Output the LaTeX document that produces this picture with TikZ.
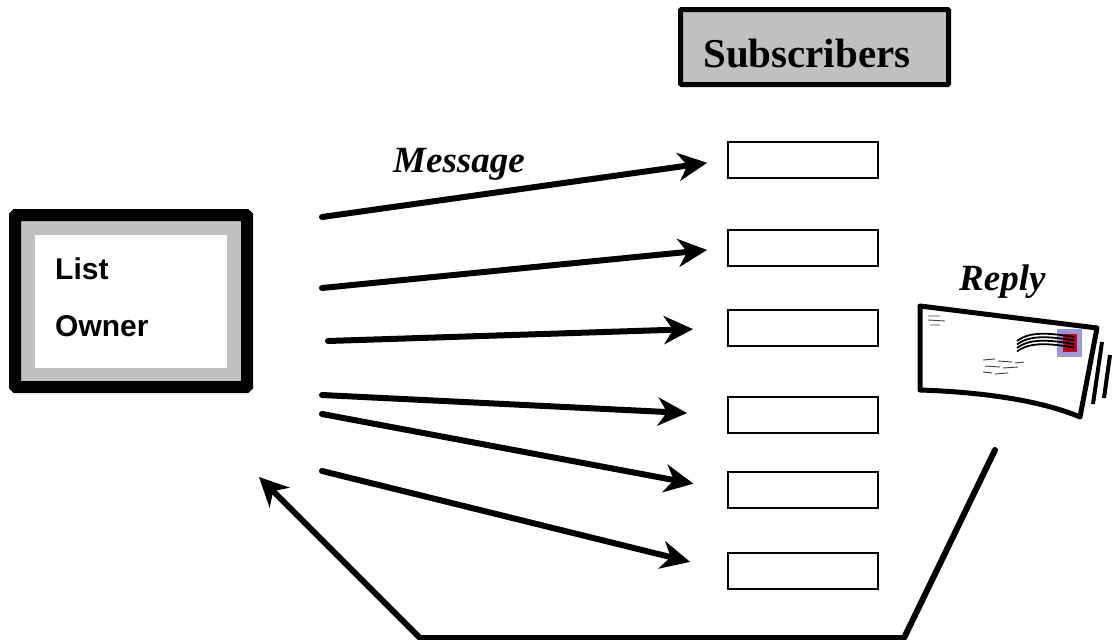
\documentclass[tikz,border=0pt]{standalone}
\usepackage{fontspec}
\setmainfont{Liberation Serif}
\newfontfamily\arialfont{Liberation Sans}
\usetikzlibrary{arrows.meta}
\definecolor{lgray}{RGB}{192,192,192}
\definecolor{stampred}{RGB}{175,10,30}
\definecolor{stampblue}{RGB}{160,150,215}
\begin{document}
\begin{tikzpicture}[x=1pt,y=-1pt,
  msg/.style={draw,line width=6pt,line cap=round,line join=round,-{Stealth[length=29pt,width=28pt,inset=9pt]}},
  sub/.style={draw,line width=2pt,minimum width=150pt,minimum height=36pt,inner sep=0pt},
  lbl/.style={anchor=base west,inner sep=0pt,font=\bfseries\itshape\fontsize{37}{44}\selectfont}]
\useasboundingbox (0,0) rectangle (1112,640);
% list owner
\node[draw,fill=lgray,line width=12pt,rounded corners=1pt,minimum width=232pt,minimum height=172pt] (lo) at (131,301) {};
\node[fill=white,minimum width=192pt,minimum height=133pt] (low) at (131,301.5) {};
\node[anchor=base west,inner sep=0pt,font=\arialfont\bfseries\fontsize{30}{36}\selectfont] (l1) at (55,279) {List};
\node[anchor=base west,inner sep=0pt,font=\arialfont\bfseries\fontsize{30}{36}\selectfont] (l2) at (55,336) {Owner};
% subscribers
\node[draw,fill=lgray,line width=5pt,rounded corners=1pt,minimum width=268pt,minimum height=75pt] (sh) at (814.5,47) {};
\node[anchor=base west,inner sep=0pt,font=\bfseries\fontsize{41}{48}\selectfont] (sht) at (703,67) {Subscribers};
\foreach \i/\y in {1/160,2/248,3/328,4/415,5/490,6/571}
  \node[sub] (s\i) at (803,\y) {};
% message arrows
\coordinate (o1) at (322,217);
\coordinate (o2) at (322,288);
\coordinate (o3) at (328,341);
\coordinate (o4) at (322,395);
\coordinate (o5) at (322,414);
\coordinate (o6) at (322,471);
\foreach \i/\g in {1/20,2/20,3/34,4/40,5/34,6/38}
  \draw[msg,shorten >=\g pt] (o\i) -- (s\i.west);
\node[lbl] (m) at (393,172) {Message};
\node[lbl] (r) at (959,290) {Reply};
% reply path
\coordinate (r0) at (995,450);
\coordinate (r1) at (904,638);
\coordinate (r2) at (420,638);
\coordinate (r3) at (259,477);
\draw[msg] (r0) -- (r1) -- (r2) -- (r3);
% envelope
\filldraw[fill=white,line width=5pt,line join=round] (920,306) -- (1097,328) -- (1080,417) .. controls (1040,400) and (980,392) .. (920,390) -- cycle;
\fill[stampblue] (1057,329) rectangle (1082,357);
\fill[stampred] (1063,334) rectangle (1077,352);
\foreach \k in {0,1,2,3}
  \draw[line width=1.8pt] (1017,341+3.5*\k) .. controls (1030,331+3.5*\k) and (1050,333+3.5*\k) .. (1074,337+3.5*\k);
\draw[line width=0.9pt,black!75] (983,360)--(995,359) (998,361)--(1012,362) (1015,363)--(1024,362)
  (985,366)--(1000,367) (1003,368)--(1018,367) (983,372)--(992,373) (995,374)--(1008,373)
  (928,316)--(940,316) (928,320)--(945,321) (930,325)--(940,325);
\draw[line width=4pt] (1102,342) -- (1093,404);
\draw[line width=4pt] (1110,355) -- (1104,398);
\end{tikzpicture}
\end{document}
